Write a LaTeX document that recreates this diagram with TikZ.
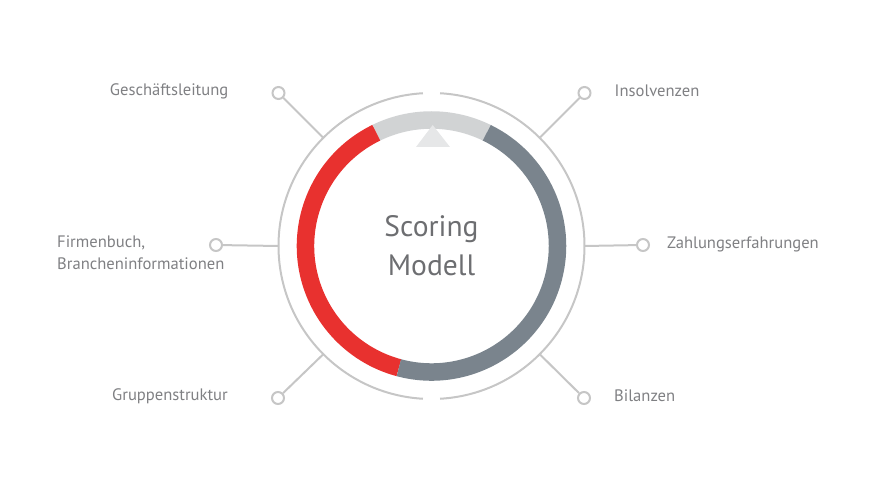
\documentclass[tikz,border=0pt]{standalone}
\usepackage{fontspec}
\setmainfont{PT Sans}
\usetikzlibrary{positioning}
\definecolor{ringgrey}{HTML}{C6C6C6}
\definecolor{scred}{HTML}{E8312F}
\definecolor{scslate}{HTML}{7A848D}
\definecolor{sclight}{HTML}{D1D3D4}
\definecolor{sctri}{HTML}{E6E7E8}
\definecolor{sctext}{HTML}{7F8083}
\definecolor{sctitle}{HTML}{6D6E71}

\begin{document}
\begin{tikzpicture}[x=1pt,y=1pt,
    spoke/.style={draw=ringgrey,line width=2pt},
    dot/.style={circle,draw=ringgrey,fill=white,line width=2pt,minimum size=12pt,inner sep=0pt},
    lbl/.style={text=sctext,font=\fontsize{16.6}{22}\selectfont,inner sep=0pt},
    band/.style={line width=17.5pt}]
  \useasboundingbox (0,0) rectangle (884,482);
  \coordinate (c) at (431.5,236);
  % outer ring, open at top and bottom
  \draw[spoke] (c) ++(93.2:153) arc[start angle=93.2,end angle=266.8,radius=153];
  \draw[spoke] (c) ++(-86.8:153) arc[start angle=-86.8,end angle=86.8,radius=153];
  % score ring
  \draw[band,sclight] (c) ++(64:126) arc[start angle=64,end angle=116,radius=126];
  \draw[band,scred] (c) ++(116:126) arc[start angle=116,end angle=255,radius=126];
  \draw[band,scslate] (c) ++(255:126) arc[start angle=255,end angle=424,radius=126];
  \fill[sctri] (432.7,357) -- (416,335) -- (450,335) -- cycle;
  % spoke ends on the ring
  \path (c) ++(135:153) coordinate (gl-r);
  \path (c) ++(45:153) coordinate (ins-r);
  \path (c) ++(180:153) coordinate (fb-r);
  \path (c) ++(0:153) coordinate (zf-r);
  \path (c) ++(225:153) coordinate (gs-r);
  \path (c) ++(-45:153) coordinate (bil-r);
  \node[dot] (gl) at (278.5,389) {};
  \node[dot] (ins) at (584.5,389) {};
  \node[dot] (fb) at (216,237) {};
  \node[dot] (zf) at (643,237) {};
  \node[dot] (gs) at (278,84) {};
  \node[dot] (bil) at (584,84) {};
  \draw[spoke] (gl-r) -- (gl);
  \draw[spoke] (ins-r) -- (ins);
  \draw[spoke] (fb-r) -- (fb);
  \draw[spoke] (zf-r) -- (zf);
  \draw[spoke] (gs-r) -- (gs);
  \draw[spoke] (bil-r) -- (bil);
  % labels
  \node[lbl,left=43pt of gl,yshift=2pt] (gl-t) {Geschäftsleitung};
  \node[lbl,right=23pt of ins,yshift=2pt] (ins-t) {Insolvenzen};
  \node[lbl,align=left,anchor=west] (fb-t) at (57,229) {Firmenbuch,\\Brancheninformationen};
  \node[lbl,right=17pt of zf,yshift=1pt] (zf-t) {Zahlungserfahrungen};
  \node[lbl,left=43pt of gs,yshift=2pt] (gs-t) {Gruppenstruktur};
  \node[lbl,right=23pt of bil,yshift=2pt] (bil-t) {Bilanzen};
  \node[text=sctitle,font=\fontsize{29.5}{39}\selectfont,align=center] (title) at (c) {Scoring\\Modell};
\end{tikzpicture}
\end{document}
